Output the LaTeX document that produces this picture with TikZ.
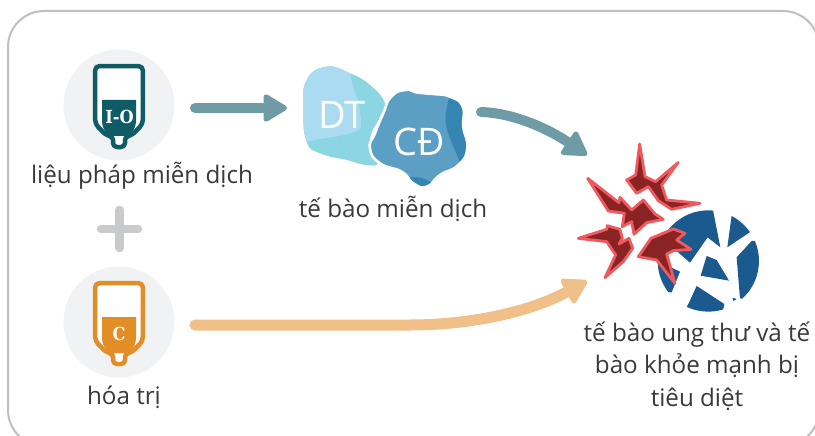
\documentclass[tikz,border=0pt]{standalone}
\usepackage{fontspec}
\setmainfont{Open Sans}
\newfontfamily\slabfont{DejaVu Serif Condensed}
\usetikzlibrary{arrows.meta}
\definecolor{frameC}{HTML}{BDBFC1}
\definecolor{discC}{HTML}{F0F2F3}
\definecolor{tealC}{HTML}{0F5C66}
\definecolor{orangeC}{HTML}{E38D27}
\definecolor{arrowT}{HTML}{6F9BA6}
\definecolor{arrowO}{HTML}{F0C088}
\definecolor{plusC}{HTML}{C8CACC}
\definecolor{dtA}{HTML}{8CD6E4}
\definecolor{dtB}{HTML}{ABDBF0}
\definecolor{cdA}{HTML}{5B9FC5}
\definecolor{cdB}{HTML}{3585B3}
\definecolor{blueC}{HTML}{1A5A8F}
\definecolor{redD}{HTML}{8A2424}
\definecolor{redL}{HTML}{EE5A60}
\definecolor{textC}{HTML}{3A3A3C}
\tikzset{
 x=1pt,y=-1pt,
 lbl/.style={font=\fontsize{24.2}{32.5}\selectfont,text=textC,align=center,inner sep=0pt},
 conn/.style={line width=10pt,line cap=round,-{Triangle[length=26pt,width=30pt,round,line width=5pt]}},
 disc/.style={circle,fill=discC,minimum size=111pt,inner sep=0pt},
 shard/.style={fill=redD,draw=redL,line width=2.8pt,line join=round},
 frag/.style={fill=blueC,draw=none},
 cellT/.style={font=\fontsize{38}{38}\selectfont,text=white,inner sep=0pt},
 bagT/.style={font=\slabfont\bfseries\fontsize{18}{18}\selectfont,text=white,inner sep=0pt}
}
\newcommand{\bagshape}[3]{%
 \begin{scope}[shift={(#1,#2)}]
 \draw[#3,line width=4.5pt,line join=round,fill=white,rounded corners=4pt]
   (-23.8,2.2)--(23.8,2.2)--(23.8,60)--(12,72)--(6,72)--(6,83)--(-6,83)--(-6,72)--(-12,72)--(-23.8,60)--cycle;
 \fill[#3] (-17,36)--(17,36)--(17,58) .. controls (17,64) and (12,71) .. (8,72)--(-8,72) .. controls (-12,71) and (-17,64) .. (-17,58)--cycle;
 \end{scope}}
\def\cdpath{plot[smooth cycle,tension=0.9] coordinates{(405,90)(418.3,92.7)(433.3,94)(450,96.7)(462.7,106.7)(463.3,126.7)(467.3,148.3)(458.3,165)(440,175)(426.7,186.7)(413.3,183.3)(401.7,171.7)(380,163.3)(370,148.3)(375,133.3)(383.3,113.3)(391,97)}}
\begin{document}
\begin{tikzpicture}
\useasboundingbox (0,0) rectangle (815,436);
\fill[white] (0,0) rectangle (815,436);
\begin{scope}
\clip (0,0) rectangle (815,436);
\draw[frameC,line width=2pt,rounded corners=36pt] (8,11) rectangle (819,446);
\end{scope}
% discs and bags
\node[disc] (discA) at (119,105) {};
\node[disc] (discB) at (119,322) {};
\bagshape{119}{64}{tealC}
\bagshape{119}{281}{orangeC}
\node[bagT] (io) at (119.5,117) {I-O};
\node[bagT] (chem) at (119,333.5) {C};
% plus
\draw[plusC,line width=8.5pt,line cap=round] (101,229)--(138,229) (119.5,210)--(119.5,248);
% DT cell
\fill[dtA] plot[smooth cycle,tension=0.8] coordinates{(326.7,66.7)(350,73.3)(370,85)(385,103.3)(380,116.7)(370,140)(378,161.7)(366.7,165)(346.7,160)(320,153.3)(306.7,141.7)(303.3,110)(306.7,80)};
\begin{scope}
\clip plot[smooth cycle,tension=0.8] coordinates{(326.7,66.7)(350,73.3)(370,85)(385,103.3)(380,116.7)(370,140)(378,161.7)(366.7,165)(346.7,160)(320,153.3)(306.7,141.7)(303.3,110)(306.7,80)};
\fill[dtB] (290,50)--(347,60)--(350,73) .. controls (353,92) and (362,105) .. (361,128) .. controls (350,137) and (330,136) .. (306.7,141.7)--(290,150)--cycle;
\end{scope}
\node[cellT] (dt) at (342,115) {DT};
% CD cell
\fill[cdA] \cdpath;
\begin{scope}
\clip \cdpath;
\fill[cdB] (450,90)--(480,90)--(480,175)--(461,165) .. controls (455,148) and (443,130) .. (446,112) .. controls (447,105) and (449,100) .. (450,90)--cycle;
\fill[cdB] (414,192) ellipse[x radius=22,y radius=15];
\end{scope}
\draw[white,line width=2.6pt] \cdpath;
\node[cellT] (cd) at (419,141.5) {CĐ};
% blue cell
\begin{scope}[shift={(565,130)}]
\begin{scope}[x=.3333pt,y=-.3333pt]
\begin{scope}
\clip (430,393) circle[radius=152];
\fill[frag] (300,220)--(445,220)--(445,245)--(466,352)--(428,322)--(375,398)--(320,350)--(270,340)--cycle;
\fill[frag] (250,380)--(345,425)--(320,487)--(250,490)--cycle;
\fill[frag] (505,220)--(487,352)--(560,303)--(600,240)--cycle;
\fill[frag] (560,333)--(515,382)--(525,505)--(620,520)--(620,333)--cycle;
\fill[frag] (425,378)--(455,390)--(492,452)--(407,437)--cycle;
\fill[frag] (395,468)--(478,522)--(470,560)--(350,560)--(372,518)--cycle;
\end{scope}
\fill[frag] (503,503)--(515,507)--(505,513)--cycle;
\draw[shard] (224,42)--(240,140)--(272,155)--(340,97)--(290,165)--(305,210)--(405,220)--(320,238)--(280,212)--(250,170)--(215,190)--(185,150)--(212,135)--cycle;
\draw[shard] (68,145)--(162,218)--(165,202)--(200,240)--(235,210)--(270,252)--(295,268)--(245,278)--(207,313)--(200,275)--(172,290)--(178,250)--(130,243)--cycle;
\draw[shard] (40,325)--(125,298)--(127,287)--(165,298)--(172,325)--(162,342)--(192,325)--(203,355)--(175,395)--(120,443)--(152,375)--(125,335)--cycle;
\draw[shard] (220,380)--(258,325)--(325,297)--(360,310)--(335,330)--(378,358)--(325,362)--(305,372)--(330,460)--(275,390)--cycle;
\end{scope}
\end{scope}
% connector ends
\coordinate (a1) at (195,108);
\coordinate (a2) at (287,108);
\coordinate (b1) at (481,112);
\coordinate (b2) at (587,155);
\coordinate (c1) at (195,325);
\coordinate (c2) at (587,281);
\draw[conn,arrowT] (a1)--(a2);
\draw[conn,arrowT] (b1) .. controls (515,113) and (550,130) .. (b2);
\draw[conn,arrowO,line width=11pt] (c1)--(410,325) .. controls (470,325) and (530,312) .. (c2);
% labels
\node[lbl] (l1) at (142,176) {liệu pháp miễn dịch};
\node[lbl] (l2) at (124,397) {hóa trị};
\node[lbl] (l3) at (393,209) {tế bào miễn dịch};
\node[lbl] (l4) at (697,366) {tế bào ung thư và tế\\bào khỏe mạnh bị\\tiêu diệt};
\end{tikzpicture}
\end{document}
